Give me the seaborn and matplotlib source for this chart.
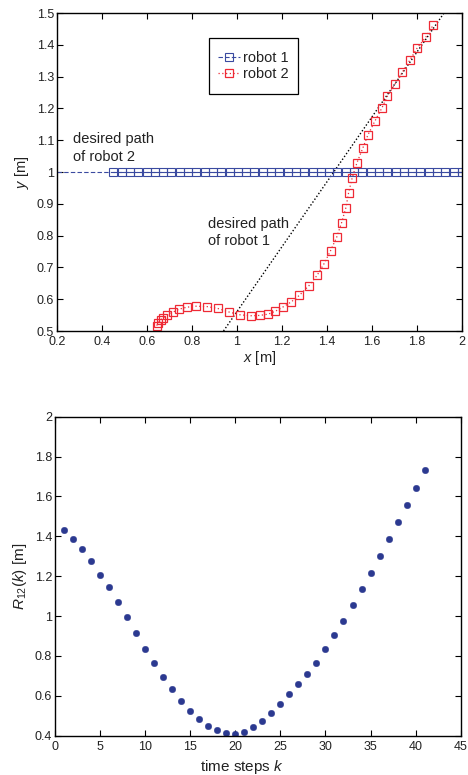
import numpy as np
import pandas as pd
import matplotlib
matplotlib.use("Agg")
import matplotlib.pyplot as plt
import seaborn as sns

# robot 1 positions (moves along y = 1)
r1_x = [0.450, 0.487, 0.524, 0.561, 0.598, 0.635, 0.671, 0.708, 0.745, 0.782,
        0.819, 0.856, 0.893, 0.930, 0.967, 1.004, 1.040, 1.077, 1.114, 1.151,
        1.188, 1.225, 1.262, 1.299, 1.336, 1.373, 1.409, 1.446, 1.483, 1.520,
        1.557, 1.594, 1.631, 1.668, 1.705, 1.742, 1.778, 1.815, 1.852, 1.889,
        1.926, 1.963, 2.000]
r1_y = [1.0] * len(r1_x)

# robot 2 positions
r2_x = [0.643, 0.650, 0.661, 0.670, 0.690, 0.714, 0.744, 0.778, 0.818, 0.865,
        0.914, 0.963, 1.013, 1.061, 1.102, 1.138, 1.170, 1.203, 1.240, 1.277,
        1.319, 1.356, 1.387, 1.416, 1.443, 1.465, 1.484, 1.496, 1.512, 1.533,
        1.559, 1.582, 1.612, 1.643, 1.668, 1.702, 1.735, 1.769, 1.800, 1.839,
        1.872]
r2_y = [0.517, 0.526, 0.535, 0.540, 0.550, 0.559, 0.569, 0.575, 0.578, 0.577,
        0.571, 0.560, 0.551, 0.548, 0.549, 0.553, 0.562, 0.575, 0.591, 0.612,
        0.642, 0.675, 0.712, 0.753, 0.795, 0.841, 0.888, 0.935, 0.982, 1.029,
        1.075, 1.117, 1.159, 1.200, 1.238, 1.276, 1.314, 1.353, 1.389, 1.424,
        1.462]

# desired paths
path1_x = [0.94, 1.92]
path1_y = [0.5, 1.5]
path2_x = [0.2, 2.0]
path2_y = [1.0, 1.0]

# distance between robots
steps = list(range(1, 42))
r12 = [1.434, 1.387, 1.335, 1.275, 1.208, 1.145, 1.070, 0.997, 0.915, 0.837,
       0.763, 0.692, 0.632, 0.572, 0.523, 0.482, 0.450, 0.427, 0.412, 0.408,
       0.417, 0.442, 0.473, 0.515, 0.557, 0.608, 0.660, 0.712, 0.767, 0.833,
       0.903, 0.977, 1.057, 1.135, 1.218, 1.301, 1.387, 1.470, 1.558, 1.643,
       1.731]

sns.set_style("ticks")
plt.rcParams['font.family'] = ['Liberation Sans', 'DejaVu Sans']
plt.rcParams['mathtext.fontset'] = 'custom'
plt.rcParams['mathtext.rm'] = 'Liberation Sans'
plt.rcParams['mathtext.it'] = 'Liberation Sans:italic'

blue = '#3a4aa0'
red = '#ee2a35'
dot_blue = '#2b3990'
txt = '#222222'

fig = plt.figure(figsize=(4.68, 7.75), dpi=100)
ax1 = fig.add_axes([0.1218, 0.5729, 0.8654, 0.4103])
ax2 = fig.add_axes([0.1175, 0.0507, 0.8669, 0.4116])

# --- top: trajectories ---
ax1.plot(path2_x, path2_y, color=blue, ls=(0, (4, 2)), lw=0.8)
ax1.plot(path1_x, path1_y, color='black', ls=(0, (1, 1.5)), lw=1.0)
df1 = pd.DataFrame({'x': r1_x, 'y': r1_y})
df2 = pd.DataFrame({'x': r2_x, 'y': r2_y})
sns.lineplot(data=df1, x='x', y='y', sort=False, ax=ax1, color=blue, lw=0.8,
             linestyle=(0, (4, 2)), marker='s', markersize=5.8, markerfacecolor='none',
             markeredgecolor=blue, markeredgewidth=0.8, label='robot 1')
sns.lineplot(data=df2, x='x', y='y', sort=False, ax=ax1, color=red, lw=0.9,
             linestyle=(0, (1, 2)), marker='s', markersize=5.8, markerfacecolor='none',
             markeredgecolor=red, markeredgewidth=0.9, label='robot 2')

ax1.set_xlim(0.2, 2.0)
ax1.set_ylim(0.5, 1.5)
ax1.set_xticks([0.2, 0.4, 0.6, 0.8, 1.0, 1.2, 1.4, 1.6, 1.8, 2.0])
ax1.set_xticklabels(['0.2', '0.4', '0.6', '0.8', '1', '1.2', '1.4', '1.6', '1.8', '2'])
ax1.set_yticks([0.5, 0.6, 0.7, 0.8, 0.9, 1.0, 1.1, 1.2, 1.3, 1.4, 1.5])
ax1.set_yticklabels(['0.5', '0.6', '0.7', '0.8', '0.9', '1', '1.1', '1.2', '1.3', '1.4', '1.5'])
ax1.set_xlabel(r'$x$ [m]', fontsize=10.5, labelpad=1, color=txt)
ax1.set_ylabel(r'$y$ [m]', fontsize=10.5, labelpad=4, color=txt)
ax1.text(0.27, 1.125, 'desired path\nof robot 2', fontsize=10.5, va='top', ha='left',
         color=txt, linespacing=1.3)
ax1.text(0.87, 0.86, 'desired path\nof robot 1', fontsize=10.5, va='top', ha='left',
         color=txt, linespacing=1.3)
leg = ax1.legend(loc='upper left', bbox_to_anchor=(0.397, 0.88), fontsize=10.5,
                 frameon=True, fancybox=False, edgecolor='black', framealpha=1,
                 handlelength=1.5, handletextpad=0.25, borderpad=0.0, labelspacing=0.15,
                 borderaxespad=0)
frame = leg.get_frame()
frame.set_linewidth(0.9)
frame.set_boxstyle('square', pad=0.6)
frame.set_mutation_aspect(1.45)
for t in leg.get_texts():
    t.set_color(txt)

# --- bottom: distance ---
df3 = pd.DataFrame({'k': steps, 'R': r12})
sns.scatterplot(data=df3, x='k', y='R', ax=ax2, color=dot_blue, s=22, edgecolor=dot_blue,
                linewidth=0.3)
ax2.set_xlim(0, 45)
ax2.set_ylim(0.4, 2.0)
ax2.set_xticks(range(0, 50, 5))
ax2.set_yticks([0.4, 0.6, 0.8, 1.0, 1.2, 1.4, 1.6, 1.8, 2.0])
ax2.set_yticklabels(['0.4', '0.6', '0.8', '1', '1.2', '1.4', '1.6', '1.8', '2'])
ax2.set_xlabel(r'time steps $k$', fontsize=11, color=txt)
ax2.xaxis.set_label_coords(0.462, -0.069)
ax2.set_ylabel(r'$R_{\mathrm{12}}(k)$ [m]', fontsize=11, labelpad=4, color=txt)

for ax in (ax1, ax2):
    ax.tick_params(direction='in', top=True, right=True, length=4.5, width=0.8,
                   labelsize=9, pad=2, colors='black', labelcolor=txt)
    ax.tick_params(axis='x', pad=3.5)
    for sp in ax.spines.values():
        sp.set_linewidth(1.0)
        sp.set_color('black')

fig.savefig('out.png', dpi=100)
